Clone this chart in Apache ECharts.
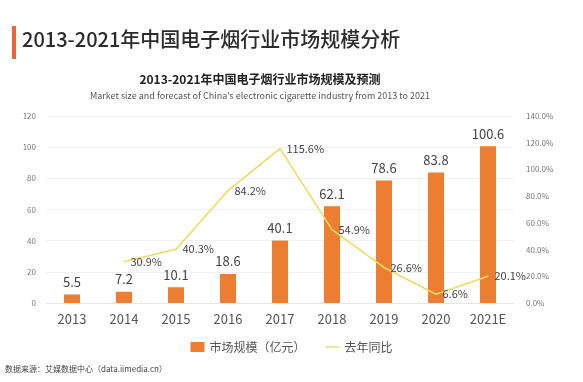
<!DOCTYPE html>
<html><head><meta charset="utf-8">
<script src="https://cdn.jsdelivr.net/npm/echarts@6/dist/echarts.min.js"></script>
<style>html,body{margin:0;padding:0;background:#fff}#c{width:583px;height:382px}</style>
</head><body><div id="c"></div>
<script>
const categories = ['2013','2014','2015','2016','2017','2018','2019','2020','2021E'];
const marketSize = [5.5, 7.2, 10.1, 18.6, 40.1, 62.1, 78.6, 83.8, 100.6];
const yoyGrowth = [null, 30.9, 40.3, 84.2, 115.6, 54.9, 26.6, 6.6, 20.1];
const leftTicks = {min: 0, max: 120, interval: 20};
const rightTicks = {min: 0, max: 140, interval: 20};

const font = '"Noto Sans CJK SC", "Noto Sans", sans-serif';
const chart = echarts.init(document.getElementById('c'), null, {renderer: 'canvas'});
chart.setOption({
  backgroundColor: '#fff',
  animation: false,
  textStyle: {fontFamily: font},
  graphic: [
    {type: 'rect', left: 12, top: 26, shape: {width: 4, height: 33}, style: {fill: '#e8643c'}},
    {type: 'text', left: 22, top: 29, style: {text: '2013-2021年中国电子烟行业市场规模分析', font: '500 20px ' + font, fill: '#2b2b2b'}},
    {type: 'text', left: 5, top: 365, style: {text: '数据来源：艾媒数据中心（data.iimedia.cn）', font: '8px ' + font, fill: '#444'}}
  ],
  title: {
    text: '2013-2021年中国电子烟行业市场规模及预测',
    subtext: "Market size and forecast of China's electronic cigarette industry from 2013 to 2021",
    left: 255, textAlign: 'center', top: 68, itemGap: 6,
    textStyle: {fontSize: 12, fontWeight: 'bold', color: '#222', fontFamily: font},
    subtextStyle: {fontSize: 9, color: '#555', fontFamily: font}
  },
  legend: {
    bottom: 24, left: 'center', itemGap: 20, itemWidth: 14, itemHeight: 10,
    textStyle: {fontSize: 12, color: '#555'},
    data: [{name: '市场规模（亿元）', icon: 'rect'}, {name: '去年同比', icon: 'path://M0,0 L20,0 L20,2 L0,2 Z'}]
  },
  grid: {left: 46, right: 69, top: 116, height: 187},
  xAxis: {
    type: 'category', data: categories,
    axisLine: {lineStyle: {color: '#e6e6e6'}}, axisTick: {show: false},
    axisLabel: {fontSize: 13, color: '#555', margin: 10}
  },
  yAxis: [
    {type: 'value', min: leftTicks.min, max: leftTicks.max, interval: leftTicks.interval,
     axisLine: {show: false}, axisTick: {show: false},
     axisLabel: {fontSize: 8, color: '#777', margin: 10},
     splitLine: {lineStyle: {color: '#f0f0f0'}}},
    {type: 'value', min: rightTicks.min, max: rightTicks.max, interval: rightTicks.interval,
     axisLine: {show: false}, axisTick: {show: false},
     axisLabel: {fontSize: 8, color: '#777', margin: 12, formatter: v => v.toFixed(1) + '%'},
     splitLine: {show: false}}
  ],
  series: [
    {name: '市场规模（亿元）', type: 'bar', data: marketSize, barWidth: 16,
     itemStyle: {color: '#ed7d31'},
     label: {show: true, position: 'top', fontSize: 13, color: '#444', distance: 6}},
    {name: '去年同比', type: 'line', yAxisIndex: 1, data: yoyGrowth,
     symbol: 'circle', symbolSize: 1, showSymbol: true,
     lineStyle: {color: '#e8dc66', width: 1.6}, itemStyle: {color: '#e8dc66'},
     label: {show: true, position: 'right', fontSize: 11, color: '#444', distance: 6,
             formatter: p => p.value.toFixed(1) + '%'}}
  ]
});
</script></body></html>
